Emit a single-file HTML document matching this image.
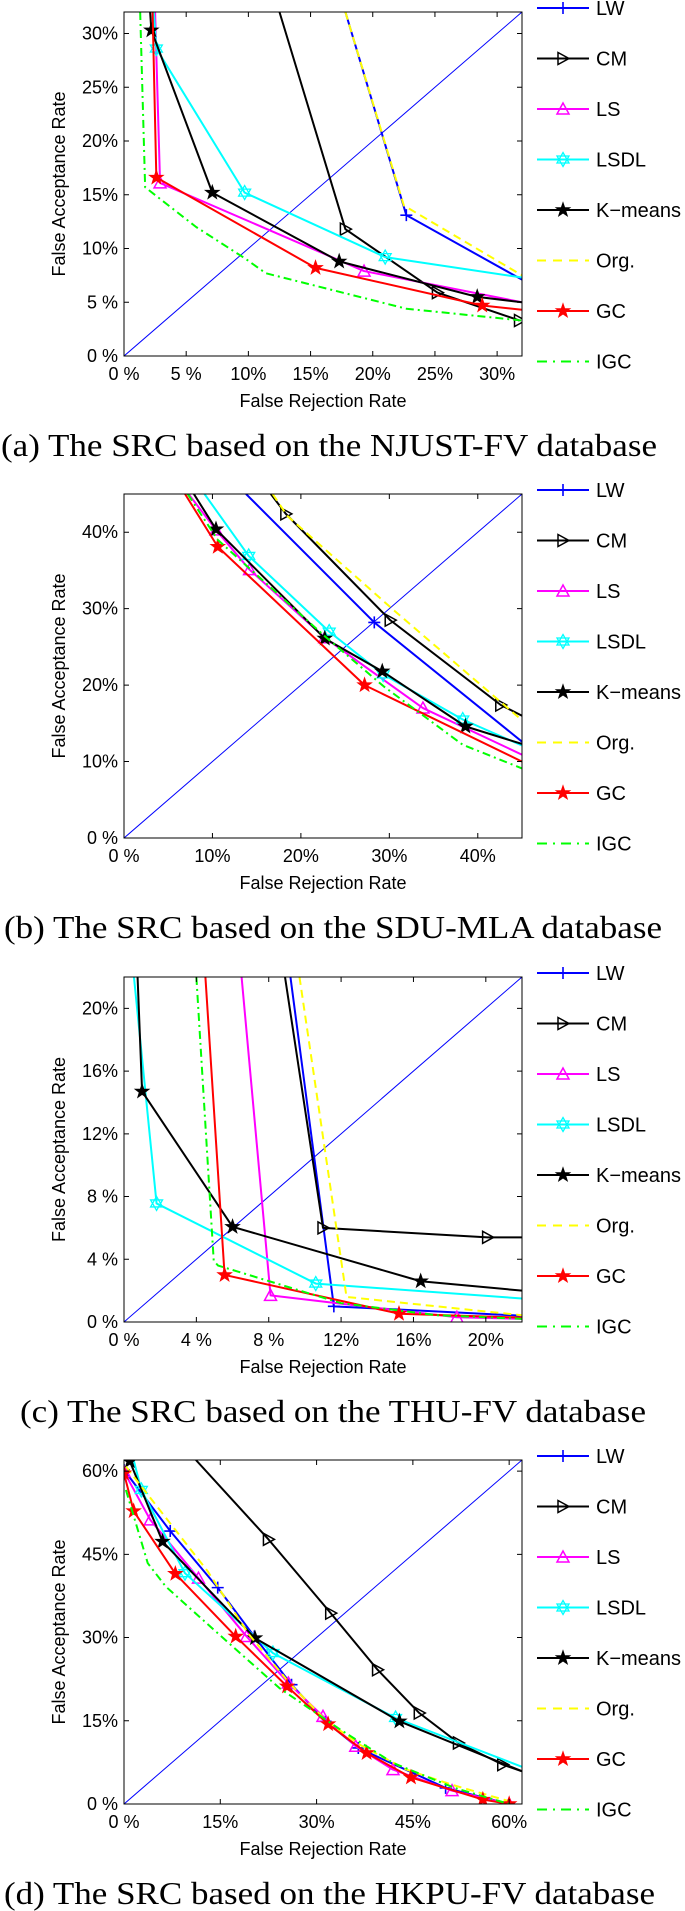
<!DOCTYPE html>
<html><head><meta charset="utf-8">
<style>
html,body{margin:0;padding:0;background:#fff;}
svg{display:block;}
text{font-family:"Liberation Sans",Arial,sans-serif;}
.cap{font-family:"Liberation Serif","Times New Roman",serif;}
</style></head>
<body>
<svg id="fig" width="685" height="1911" viewBox="0 0 685 1911" xmlns="http://www.w3.org/2000/svg"></svg>
<script>
// ---------- data ----------
const legendLabels = ['LW','CM','LS','LSDL','K\u2212means','Org.','GC','IGC'];
const chartTitles = ['(a) The SRC based on the NJUST-FV database','(b) The SRC based on the SDU-MLA database','(c) The SRC based on the THU-FV database','(d) The SRC based on the HKPU-FV database'];
const axisMax = [32, 45, 22, 62];
const ticksA = [0,5,10,15,20,25,30];
const ticksB = [0,10,20,30,40];
const ticksC = [0,4,8,12,16,20];
const ticksD = [0,15,30,45,60];

const a_LW = [[17.8,32],[22.7,13.1],[32,7.1]];
const a_CM = [[12.5,32],[17.8,11.8],[25.2,5.9],[31.8,3.3]];
const a_LS = [[2.5,32],[2.9,16.1],[19.3,7.9],[32,5.0]];
const a_LSDL = [[2.4,32],[2.6,28.6],[9.7,15.2],[21,9.2],[32,7.3]];
const a_KM = [[2.1,32],[2.2,30.3],[7.1,15.2],[17.3,8.8],[28.4,5.5],[32,5.0]];
const a_Org = [[17.8,32],[22.5,14.0],[32,7.5]];
const a_GC = [[2.3,32],[2.6,16.6],[15.4,8.2],[28.8,4.7],[32,4.3]];
const a_IGC = [[1.3,32],[1.7,15.7],[5.8,12],[9.7,9.1],[11.4,7.7],[22.7,4.4],[32,3.3]];

const b_LW = [[13.8,45],[28.3,28.2],[45,12.6]];
const b_CM = [[16.6,45],[18.3,42.4],[30.1,28.5],[42.6,17.4],[45,16.0]];
const b_LS = [[7.3,45],[10.4,40.3],[14.2,35.1],[22.7,26.2],[33.8,17],[45,10.9]];
const b_LSDL = [[9.1,45],[14.1,36.9],[23.2,27],[29.3,21.4],[38.3,15.5],[45,12.1]];
const b_KM = [[7.9,45],[10.4,40.4],[22.7,26.1],[29.2,21.8],[38.6,14.6],[45,12.3]];
const b_Org = [[16.8,45],[18.5,42.1],[30.4,29.9],[45,15.4]];
const b_GC = [[6.9,45],[10.6,38.1],[27.2,20],[45,10]];
const b_IGC = [[7.2,45],[10.6,39],[22.7,26.4],[29.4,19.8],[38.3,12.2],[45,9.1]];

const c_LW = [[9.2,22],[11.6,1.0],[22,0.4]];
const c_CM = [[8.9,22],[11.0,6.0],[20.1,5.4],[22,5.4]];
const c_LS = [[6.5,22],[8.1,1.7],[18.4,0.3],[22,0.2]];
const c_LSDL = [[0.55,22],[1.8,7.56],[10.6,2.45],[22,1.5]];
const c_KM = [[0.75,22],[1.0,14.7],[6.0,6.07],[16.4,2.6],[22,2.0]];
const c_Org = [[9.7,22],[12.3,1.6],[22,0.43]];
const c_GC = [[4.5,22],[5.56,3.0],[15.2,0.53],[22,0.28]];
const c_IGC = [[4.0,22],[4.96,3.9],[5.2,3.6],[12,1.2],[17.3,0.43],[22,0.2]];

const d_LW = [[0,60.2],[7.2,49.2],[14.6,39],[20.3,30.2],[26.1,21.5],[31.4,14.9],[36.5,10.1],[50.1,2.9],[60,0]];
const d_CM = [[11.2,62],[22.5,47.7],[32.2,34.4],[39.5,24.2],[46,16.4],[52.1,11],[59,7.1],[62,5.9]];
const d_LS = [[0,59.9],[4.1,51.2],[11.6,40.7],[19.1,30.2],[25.6,21.8],[31,15.8],[36.1,10.4],[41.9,6.2],[51.1,2.4],[60,0]];
const d_LSDL = [[1.5,62],[2.7,56.6],[9.5,41.6],[23.2,27.2],[42.3,15.5],[62,6.7]];
const d_KM = [[0.9,61.8],[6,47.3],[20.4,29.9],[42.9,14.9],[62,5.9]];
const d_Org = [[0.3,60.8],[13,42],[19.5,30.5],[26,21.5],[31.5,15],[37,10.5],[44,6.2],[51,3.5],[60,0.5]];
const d_GC = [[0,59.6],[1.5,52.8],[8,41.5],[17.4,30.2],[25.4,21.2],[31.8,14.4],[37.8,9.2],[44.7,4.8],[55.9,0.8],[60,0]];
const d_IGC = [[0.3,56.6],[3.7,43.4],[6.5,39.2],[14,31.4],[24.2,20.9],[33.7,13.4],[41.9,7.4],[51.5,2.9],[60,0]];

// ---------- rendering ----------
const NS='http://www.w3.org/2000/svg';
const svg=document.getElementById('fig');
function mk(tag,attrs,parent){const e=document.createElementNS(NS,tag);for(const k in attrs)e.setAttribute(k,attrs[k]);(parent||svg).appendChild(e);return e;}
const styles=[
 {c:'#0000ff',m:'plus',d:''},
 {c:'#000000',m:'tri-right',d:''},
 {c:'#ff00ff',m:'tri-up',d:''},
 {c:'#00ffff',m:'hex',d:''},
 {c:'#000000',m:'star',d:''},
 {c:'#ffff00',m:'none',d:'8,5'},
 {c:'#ff0000',m:'star',d:''},
 {c:'#00ff00',m:'none',d:'8,4,2,4'}];
function starPts(cx,cy,R,r,n,rot){let p=[];for(let i=0;i<2*n;i++){const a=rot+i*Math.PI/n;const rr=i%2?r:R;p.push((cx+rr*Math.sin(a)).toFixed(2)+','+(cy-rr*Math.cos(a)).toFixed(2));}return p.join(' ');}
function marker(g,type,x,y,col){
 let e;
 if(type==='plus'){e=mk('path',{d:`M${x-6},${y}H${x+6}M${x},${y-6}V${y+6}`,stroke:col,'stroke-width':1.6,fill:'none'},g);}
 else if(type==='tri-right'){e=mk('polygon',{points:`${x-5},${y-6} ${x+6},${y} ${x-5},${y+6}`,stroke:col,'stroke-width':1.5,fill:'none'},g);}
 else if(type==='tri-up'){e=mk('polygon',{points:`${x},${y-6} ${x+6},${y+5} ${x-6},${y+5}`,stroke:col,'stroke-width':1.5,fill:'none'},g);}
 else if(type==='hex'){e=mk('path',{d:`M${x},${y-7}L${x+6},${y+3.5}L${x-6},${y+3.5}ZM${x},${y+7}L${x+6},${y-3.5}L${x-6},${y-3.5}Z`,stroke:col,'stroke-width':1.3,fill:'none'},g);}
 else if(type==='star'){e=mk('polygon',{points:starPts(x,y,7.5,3,5,0),fill:col,stroke:col,'stroke-width':0.8},g);}
 if(e){
 }
}
const chartData=[
 [a_LW,a_CM,a_LS,a_LSDL,a_KM,a_Org,a_GC,a_IGC],
 [b_LW,b_CM,b_LS,b_LSDL,b_KM,b_Org,b_GC,b_IGC],
 [c_LW,c_CM,c_LS,c_LSDL,c_KM,c_Org,c_GC,c_IGC],
 [d_LW,d_CM,d_LS,d_LSDL,d_KM,d_Org,d_GC,d_IGC]];
const tickSets=[ticksA,ticksB,ticksC,ticksD];
const tops=[12,494,977,1460], bottoms=[356,838,1322,1804];
const L=124,R=522;
const capExtents=[[1,657],[4,662],[20,646],[4,655]];
function fmt(v){return v<10?v+' %':v+'%';}
const letters=['a','b','c','d'];
for(let ci=0;ci<4;ci++){
 const T=tops[ci],B=bottoms[ci],max=axisMax[ci];
 const sx=v=>L+(R-L)*v/max, sy=v=>B-(B-T)*v/max;
 const g=mk('g',{});
 
 
 const cp=mk('clipPath',{id:'clip'+ci},g);
 mk('rect',{x:L,y:T,width:R-L,height:B-T},cp);
 const bg=mk('rect',{x:L,y:T,width:R-L,height:B-T,fill:'#fff'},g);
 
 
 const plot=mk('g',{'clip-path':`url(#clip${ci})`},g);
 const dg=mk('line',{x1:sx(0),y1:sy(0),x2:sx(max),y2:sy(max),stroke:'#0000ff','stroke-width':1},plot);
 
 
 chartData[ci].forEach((ser,si)=>{
  const st=styles[si];
  const pl=mk('polyline',{points:ser.map(p=>sx(p[0]).toFixed(2)+','+sy(p[1]).toFixed(2)).join(' '),fill:'none',stroke:st.c,'stroke-width':2,'stroke-linejoin':'round'},plot);
  if(st.d)pl.setAttribute('stroke-dasharray',st.d);
  
  
  if(st.m!=='none')ser.forEach(p=>{if(p[0]>=max-0.01||p[1]>=max-0.01)return;marker(plot,st.m,sx(p[0]),sy(p[1]),st.c);});
 });
 const bx=mk('rect',{x:L,y:T,width:R-L,height:B-T,fill:'none',stroke:'#000','stroke-width':1},g);
 
 
 tickSets[ci].forEach(v=>{
  const x=sx(v),y=sy(v);
  mk('path',{d:`M${x},${B}v-5M${x},${T}v5M${L},${y}h5M${R},${y}h-5`,stroke:'#000','stroke-width':1},g);
  const xt=mk('text',{x:x,y:B+24,'font-size':18,'text-anchor':'middle',fill:'#000'},g);
  xt.textContent=fmt(v);
  
  
  const yt=mk('text',{x:L-6,y:y+6,'font-size':18,'text-anchor':'end',fill:'#000'},g);
  yt.textContent=fmt(v);
  
  
 });
 const xl=mk('text',{x:(L+R)/2,y:B+51,'font-size':18,'text-anchor':'middle'},g);
 xl.textContent='False Rejection Rate';
 
 
 const cy=(T+B)/2;
 const yl=mk('text',{x:65,y:cy,'font-size':18,'text-anchor':'middle',transform:`rotate(-90 65 ${cy})`},g);
 yl.textContent='False Acceptance Rate';
 
 
 legendLabels.forEach((lab,si)=>{
  const st=styles[si];const y=T-4+si*50.5;
  const lg=mk('g',{},g);
  
  
  const ln=mk('line',{x1:537,y1:y,x2:589,y2:y,stroke:st.c,'stroke-width':2},lg);
  if(st.d)ln.setAttribute('stroke-dasharray',st.d==='8,5'?'9,7':'10,6,2,6');
  if(st.m!=='none')marker(lg,st.m,563,y,st.c);
  const t=mk('text',{x:596,y:y+7,'font-size':20},lg);
  t.textContent=lab;
 });
 const ce=capExtents[ci];
 const cap=mk('text',{x:ce[0],y:B+100,'font-size':32,class:'cap',textLength:ce[1]-ce[0],lengthAdjust:'spacingAndGlyphs'},g);
 cap.textContent=chartTitles[ci];
 
 
}
</script>
</body></html>
